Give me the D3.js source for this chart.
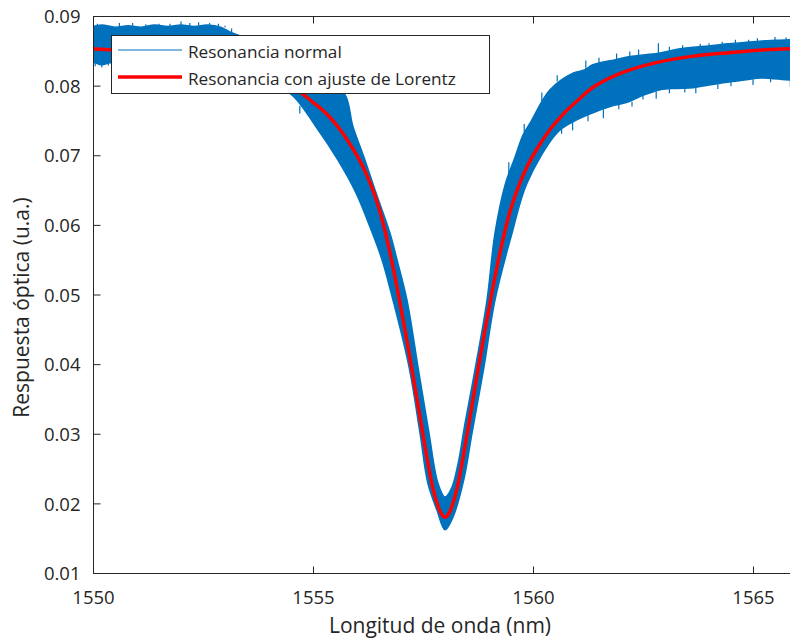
<!DOCTYPE html>
<html><head><meta charset="utf-8">
<script src="https://cdn.jsdelivr.net/npm/d3@7/dist/d3.min.js"></script>
<style>
body{margin:0;background:#fff}
svg{display:block}
text{font-family:"Open Sans","Noto Sans",sans-serif;fill:#262626}
</style>
</head><body>
<svg id="c" width="790" height="641"></svg>
<script>
// ---- data ----
const xTicks = [1550, 1555, 1560, 1565];
const yTicks = [0.01, 0.02, 0.03, 0.04, 0.05, 0.06, 0.07, 0.08, 0.09];
const yTickLabels = ["0.01","0.02","0.03","0.04","0.05","0.06","0.07","0.08","0.09"];

// Lorentz fit (red)
const fitWl  = [1549.9,1550.0,1551.0,1552.0,1553.0,1554.0,1554.6,1555.0,1555.3,1555.6,1555.9,1556.1,1556.3,1556.5,1556.65,1556.8,1556.95,1557.1,1557.25,1557.4,1557.55,1557.7,1557.8,1557.9,1558.0,1558.1,1558.2,1558.3,1558.45,1558.6,1558.75,1558.9,1559.05,1559.2,1559.35,1559.5,1559.7,1559.9,1560.1,1560.4,1560.7,1561.0,1561.4,1562.0,1562.8,1563.6,1564.4,1565.2,1565.84,1566.2];
const fitVal = [0.0854,0.0853,0.0849,0.0843,0.0832,0.0813,0.0795,0.0776,0.0760,0.0738,0.0710,0.0688,0.0660,0.0624,0.0588,0.0545,0.0497,0.0446,0.0392,0.0336,0.0280,0.0229,0.0204,0.0187,0.0180,0.0187,0.0204,0.0229,0.0280,0.0336,0.0392,0.0446,0.0497,0.0545,0.0588,0.0624,0.0660,0.0688,0.0710,0.0738,0.0760,0.0778,0.0799,0.0818,0.0833,0.0842,0.0847,0.0851,0.0853,0.0854];

// measured resonance (blue): upper and lower envelope of the noisy trace
const upperWl  = [1549.9,1550.0,1550.2,1550.5,1550.8,1551.1,1551.4,1551.7,1552.0,1552.3,1552.6,1552.9,1553.11,1553.5,1554.0,1554.6,1555.2,1555.705,1555.909,1556.182,1556.432,1556.75,1556.909,1557.136,1557.386,1557.636,1557.84,1558.0,1558.15,1558.3,1558.45,1558.705,1558.955,1559.136,1559.364,1559.591,1559.773,1559.932,1560.386,1560.909,1561.15,1561.36,1561.6,1561.85,1562.14,1562.5,1562.89,1563.25,1563.64,1564.0,1564.41,1564.8,1565.2,1565.5,1565.84,1566.2];
const upperVal = [0.0885,0.0885,0.0887,0.0884,0.0886,0.0884,0.0887,0.0885,0.0887,0.0885,0.0887,0.0884,0.0877,0.0868,0.0852,0.0830,0.0805,0.0789,0.0741,0.0693,0.0646,0.0588,0.0550,0.0492,0.0396,0.0301,0.0229,0.0209,0.0222,0.0258,0.0313,0.0400,0.0492,0.0588,0.0657,0.0697,0.0729,0.0746,0.0794,0.0818,0.0822,0.0830,0.0834,0.0837,0.0841,0.0844,0.0847,0.0852,0.0855,0.0857,0.0860,0.0862,0.0864,0.0865,0.0866,0.0866];
const lowerWl  = [1549.9,1550.0,1550.2,1550.4,1551.0,1552.0,1553.0,1554.0,1554.477,1555.068,1555.568,1555.977,1556.295,1556.568,1556.818,1557.182,1557.432,1557.61,1557.818,1558.0,1558.18,1558.43,1558.614,1558.886,1559.136,1559.523,1559.864,1560.545,1560.909,1561.364,1561.75,1562.14,1562.5,1562.89,1563.25,1563.64,1564.0,1564.41,1564.8,1565.2,1565.84,1566.2];
const lowerVal = [0.0834,0.0834,0.0830,0.0833,0.0830,0.0826,0.0815,0.0798,0.0789,0.0741,0.0693,0.0646,0.0597,0.0550,0.0492,0.0396,0.0301,0.0229,0.0190,0.0162,0.0180,0.0235,0.0301,0.0396,0.0492,0.0588,0.0660,0.0732,0.0748,0.0761,0.0770,0.0776,0.0786,0.0794,0.0796,0.0797,0.0801,0.0805,0.0808,0.0811,0.0808,0.0808];

// isolated noise spikes of the blue trace: wavelength, band edge, spike tip
const spikeWl   = [1550.05,1550.1,1550.2,1550.35,1550.6,1550.9,1551.2,1551.5,1551.75,1552.0,1552.2,1552.4,1552.65,1552.85,1553.0,1553.15,
                   1554.7,1559.45,1559.8,1560.2,1560.55,
                   1561.2,1561.5,1561.9,1562.2,1562.4,1562.85,1563.1,1563.4,1563.8,1564.0,1564.3,1564.6,1564.9,1565.1,1565.5,1565.75,
                   1560.65,1560.9,1561.25,1561.6,1561.95,1562.25,1562.5,1562.8,1563.1,1563.45,1563.7,1564.2,1564.5,1565.0,1565.4,1565.85];
const spikeBase = [0.0834,0.0885,0.0833,0.0833,0.0885,0.0886,0.0884,0.0886,0.0885,0.0887,0.0885,0.0886,0.0886,0.0885,0.0884,0.0876,
                   0.0771,0.0672,0.0733,0.0778,0.0806,
                   0.0824,0.0832,0.0838,0.0841,0.0843,0.0846,0.0850,0.0853,0.0856,0.0857,0.0859,0.0861,0.0862,0.0863,0.0865,0.0866,
                   0.0741,0.0748,0.0757,0.0766,0.0773,0.0777,0.0786,0.0792,0.0795,0.0796,0.0797,0.0802,0.0806,0.0809,0.0811,0.0808];
const spikeTip  = [0.0828,0.0889,0.0826,0.0829,0.0890,0.0890,0.0888,0.0889,0.0889,0.0892,0.0890,0.0891,0.0890,0.0889,0.0886,0.0882,
                   0.0760,0.0690,0.0745,0.0790,0.0815,
                   0.0836,0.0840,0.0846,0.0849,0.0852,0.0861,0.0856,0.0858,0.0860,0.0861,0.0863,0.0866,0.0866,0.0868,0.0870,0.0869,
                   0.0731,0.0736,0.0749,0.0753,0.0766,0.0770,0.0780,0.0781,0.0789,0.0790,0.0789,0.0795,0.0799,0.0801,0.0805,0.0798];

const legendLabels = ["Resonancia normal", "Resonancia con ajuste de Lorentz"];
const xLabel = "Longitud de onda (nm)";
const yLabel = "Respuesta óptica (u.a.)";

// ---- layout ----
const L = 93, T = 16, R = 797, B = 573;
const blue = "#0072BD", red = "#FF0000", axisCol = "#262626";

const svg = d3.select("#c");
const x = d3.scaleLinear().domain([1550, 1566]).range([L, R]);
const y = d3.scaleLinear().domain([0.01, 0.09]).range([B, T]);

svg.append("defs").append("clipPath").attr("id","clip")
  .append("rect").attr("x",L).attr("y",T).attr("width",R-L).attr("height",B-T);

const plot = svg.append("g").attr("clip-path","url(#clip)");

// blue band: upper left->right, lower right->left
const edge = d3.line().x(d=>x(d[0])).y(d=>y(d[1])).curve(d3.curveCatmullRom.alpha(0.5));
const upperPts = upperWl.map((w,i)=>[w, upperVal[i]]);
const lowerPts = lowerWl.map((w,i)=>[w, lowerVal[i]]).reverse();
const dU = edge(upperPts), dL = edge(lowerPts);
plot.append("path")
  .attr("d", dU + "L" + dL.slice(1) + "Z")
  .attr("fill", blue).attr("stroke", blue).attr("stroke-width", 1.5).attr("stroke-linejoin","round");

// noise spikes
plot.selectAll("line.spk").data(spikeWl).enter().append("line").attr("class","spk")
  .attr("x1",d=>x(d)).attr("x2",d=>x(d))
  .attr("y1",(d,i)=>y(spikeBase[i])).attr("y2",(d,i)=>y(spikeTip[i]))
  .attr("stroke",blue).attr("stroke-width",1.2);

// red fit
const fitLine = d3.line().x(d=>x(d[0])).y(d=>y(d[1])).curve(d3.curveCatmullRom.alpha(0.5));
plot.append("path")
  .attr("d", fitLine(fitWl.map((w,i)=>[w, fitVal[i]])))
  .attr("fill","none").attr("stroke", red).attr("stroke-width", 3.5)
  .attr("stroke-linejoin","round");

// axes box
svg.append("rect").attr("x",L+0.5).attr("y",T+0.5).attr("width",R-L).attr("height",B-T)
  .attr("fill","none").attr("stroke",axisCol).attr("stroke-width",1);

const tl = 7;
const font = "'Open Sans','Noto Sans',sans-serif";
const xAxisB = d3.axisBottom(x).tickValues(xTicks).tickSize(-tl).tickPadding(17).tickFormat(d3.format("d"));
const gxb = svg.append("g").attr("transform",`translate(0,${B+0.5})`).call(xAxisB);
gxb.select(".domain").remove();
gxb.selectAll("line").attr("stroke",axisCol);
gxb.selectAll("text").attr("font-size",18.5).attr("fill",axisCol).attr("font-family",font);

const xAxisT = d3.axisTop(x).tickValues(xTicks).tickSize(-tl).tickFormat("");
const gxt = svg.append("g").attr("transform",`translate(0,${T+0.5})`).call(xAxisT);
gxt.select(".domain").remove();
gxt.selectAll("line").attr("stroke",axisCol);

const yAxisL = d3.axisLeft(y).tickValues(yTicks).tickSize(-tl).tickPadding(13)
  .tickFormat((d,i)=>yTickLabels[i]);
const gyl = svg.append("g").attr("transform",`translate(${L+0.5},0)`).call(yAxisL);
gyl.select(".domain").remove();
gyl.selectAll("line").attr("stroke",axisCol);
gyl.selectAll("text").attr("font-size",18.5).attr("fill",axisCol).attr("font-family",font).attr("dy","0.36em");

// axis labels
svg.append("text").attr("x",440).attr("y",633).attr("text-anchor","middle")
  .attr("font-size",21).text(xLabel);
svg.append("text").attr("transform",`translate(29,${(T+B)/2+13}) rotate(-90)`)
  .attr("text-anchor","middle").attr("font-size",21).text(yLabel);

// legend
const lg = svg.append("g");
lg.append("rect").attr("x",111.5).attr("y",35.5).attr("width",378).attr("height",58)
  .attr("fill","#fff").attr("stroke",axisCol).attr("stroke-width",1);
lg.append("line").attr("x1",118).attr("x2",182).attr("y1",50).attr("y2",50)
  .attr("stroke",blue).attr("stroke-width",1);
lg.append("line").attr("x1",118).attr("x2",182).attr("y1",77).attr("y2",77)
  .attr("stroke",red).attr("stroke-width",3.5);
lg.selectAll("text.lt").data(legendLabels).enter().append("text").attr("class","lt")
  .attr("x",188).attr("y",(d,i)=>57.5+i*27).attr("font-size",17.2).text(d=>d);
</script>
</body></html>
